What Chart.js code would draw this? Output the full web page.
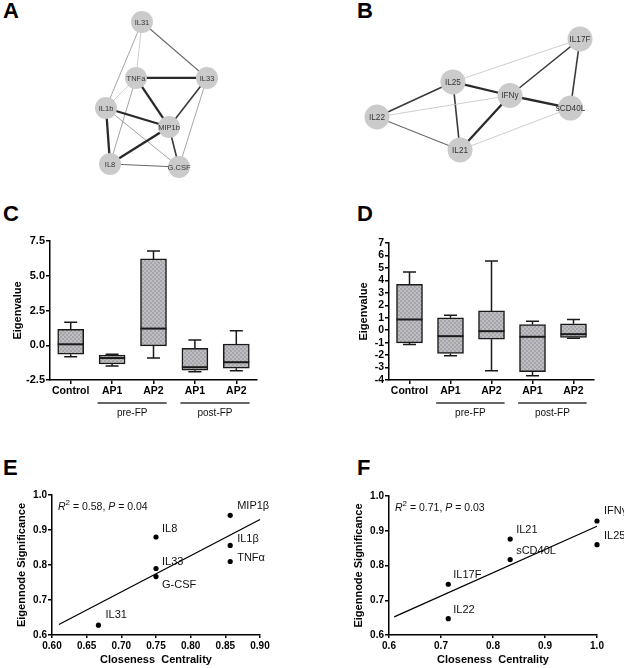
<!DOCTYPE html>
<html><head><meta charset="utf-8">
<script src="https://cdn.jsdelivr.net/npm/chart.js@4"></script>
<style>
body{margin:0;background:#fff;width:624px;height:668px;position:relative;overflow:hidden;font-family:'Liberation Sans',Arial,sans-serif}
canvas{position:absolute}
.lbl{position:absolute;font-weight:bold;font-size:22px;line-height:22px;color:#000}
</style></head><body>
<div class="lbl" style="left:3px;top:0px">A</div>
<div class="lbl" style="left:357px;top:0px">B</div>
<div class="lbl" style="left:3px;top:203px">C</div>
<div class="lbl" style="left:357px;top:203px">D</div>
<div class="lbl" style="left:3px;top:457px">E</div>
<div class="lbl" style="left:357px;top:457px">F</div>
<canvas id="cA" width="312" height="200" style="left:0;top:0"></canvas>
<canvas id="cB" width="312" height="200" style="left:312px;top:0"></canvas>
<canvas id="cC" width="312" height="230" style="left:0;top:200px"></canvas>
<canvas id="cD" width="312" height="230" style="left:312px;top:200px"></canvas>
<canvas id="cE" width="312" height="228" style="left:0;top:440px"></canvas>
<canvas id="cF" width="312" height="228" style="left:312px;top:440px"></canvas>
<script>
// ---------- DATA ----------
// Network A (layout coordinates, 0..1)
const netANodes = ['IL31','TNFa','IL33','IL1b','MIP1b','IL8','G.CSF'];
const netAX = [0.356,0.297,1.000,0.000,0.624,0.040,0.723];
const netAY = [1.000,0.614,0.614,0.407,0.276,0.021,0.000];
const netAEdges = [['TNFa','IL33',5],['TNFa','MIP1b',5],['IL33','MIP1b',4],['IL1b','MIP1b',5],['IL1b','IL8',5],['MIP1b','IL8',5],['MIP1b','G.CSF',4],['IL8','G.CSF',3],['IL31','IL33',3],['IL31','IL1b',2],['IL31','TNFa',1],['TNFa','IL1b',1],['TNFa','IL8',2],['IL33','G.CSF',2],['IL1b','G.CSF',2]];
// Network B
const netBNodes = ['IL17F','IL25','IFNy','sCD40L','IL22','IL21'];
const netBX = [1.000,0.374,0.655,0.953,0.000,0.409];
const netBY = [1.000,0.613,0.491,0.378,0.297,0.000];
const netBEdges = [['IL25','IL17F',1],['IFNy','IL17F',4],['IL17F','sCD40L',4],['IL25','IFNy',5],['IFNy','sCD40L',5],['IL22','IL25',4],['IL22','IFNy',1],['IL22','IL21',3],['IL25','IL21',4],['IFNy','IL21',5],['IL21','sCD40L',1]];
// Box plots
const boxCategories = ['Control','AP1','AP2','AP1','AP2'];
const groupNames = ['pre-FP','post-FP'];
const groupMembers = [[1,2],[3,4]];
const cMin = [-0.82,-1.50,-0.91,-1.90,-1.83];
const cQ1  = [-0.65,-1.35,-0.05,-1.80,-1.65];
const cMed = [ 0.07,-0.92, 1.20,-1.58,-1.22];
const cQ3  = [ 1.15,-0.70, 6.21,-0.22, 0.09];
const cMax = [ 1.65,-0.65, 6.78, 0.38, 1.05];
const dMin = [-1.15,-2.06,-3.26,-3.66,-0.64];
const dQ1  = [-1.02,-1.87,-0.72,-3.34,-0.59];
const dMed = [ 0.86,-0.48,-0.08,-0.53,-0.32];
const dQ3  = [ 3.69, 0.99, 1.55, 0.45, 0.51];
const dMax = [ 4.68, 1.20, 5.56, 0.72, 0.86];
// Scatter E
const eNames = ['MIP1β','IL8','IL1β','TNFα','IL33','G-CSF','IL31'];
const eX = [0.857,0.750,0.857,0.857,0.750,0.750,0.667];
const eY = [0.942,0.880,0.856,0.810,0.790,0.767,0.628];
const eFitX = [0.61,0.90];
const eFitY = [0.630,0.930];
const eStat = ['0.58','0.04'];
// Scatter F
const fNames = ['IFNγ','IL25','IL21','sCD40L','IL17F','IL22'];
const fX = [1.000,1.000,0.833,0.833,0.714,0.714];
const fY = [0.928,0.860,0.876,0.817,0.746,0.647];
const fFitX = [0.61,1.00];
const fFitY = [0.652,0.913];
const fStat = ['0.71','0.03'];

// ---------- STYLE ----------
const FONT = "'Liberation Sans', Arial, sans-serif";
Chart.defaults.font.family = FONT;
Chart.defaults.color = '#000';
Chart.defaults.animation = false;
Chart.defaults.events = [];
Chart.defaults.plugins.legend.display = false;
Chart.defaults.plugins.tooltip.enabled = false;

const edgeStyle = {1:['#c2c2c2',0.8],2:['#9a9a9a',0.9],3:['#6a6a6a',1.1],4:['#3a3a3a',1.6],5:['#2a2a2a',2.3]};

function network(id, nodes, xs, ys, edges, pad, radius, fsize){
  const pts = nodes.map((n,i)=>({x:xs[i], y:ys[i]}));
  const idx = n => nodes.indexOf(n);
  const ds = [{data:pts, pointRadius:radius, pointBackgroundColor:'#cbcbcb', pointBorderWidth:0, showLine:false, clip:false, order:0}];
  edges.forEach(e=>{
    const st = edgeStyle[e[2]];
    ds.push({data:[pts[idx(e[0])], pts[idx(e[1])]], showLine:true, pointRadius:0, borderColor:st[0], borderWidth:st[1], clip:false, order:1});
  });
  new Chart(document.getElementById(id), {
    type:'scatter',
    data:{datasets:ds},
    options:{responsive:false, layout:{padding:pad},
      scales:{x:{type:'linear',display:false,min:0,max:1}, y:{type:'linear',display:false,min:0,max:1}}},
    plugins:[{id:'nodeLabels', afterDatasetsDraw(chart){
      const {ctx, scales:{x,y}} = chart;
      ctx.save(); ctx.font = fsize+'px '+FONT; ctx.fillStyle='#333'; ctx.textAlign='center'; ctx.textBaseline='middle';
      nodes.forEach((n,i)=>ctx.fillText(n, x.getPixelForValue(xs[i]), y.getPixelForValue(ys[i])+0.5));
      ctx.restore();
    }}]
  });
}

function makePattern(){
  const c = document.createElement('canvas'); c.width=4; c.height=4;
  const g = c.getContext('2d');
  g.fillStyle='#bebec2'; g.fillRect(0,0,4,4);
  g.fillStyle='#a6a6aa'; g.fillRect(0,0,2,2); g.fillRect(2,2,2,2);
  return g.createPattern(c,'repeat');
}

function yAxis(min,max,step,fmt,title,width,titlePad,fs){
  return {type:'linear',min,max,
    ticks:{stepSize:step,autoSkip:false,callback:v=>fmt(v),font:{size:fs,weight:'bold'},padding:1,color:'#000'},
    grid:{drawOnChartArea:false,drawTicks:true,tickLength:4,color:'#000',lineWidth:1.5},
    border:{display:true,color:'#000',width:1.5},
    title:{display:true,text:title,font:{size:11,weight:'bold'},padding:{top:titlePad,bottom:0},color:'#000'},
    afterFit(s){s.width=width;}};
}

function boxChart(id, mn, q1, md, q3, mx, yMin, yMax, step, fmt, pad, titlePad, yfs){
  const bw = 26;
  new Chart(document.getElementById(id), {
    type:'bar',
    data:{labels:boxCategories, datasets:[{data:q1.map((v,i)=>[v,q3[i]]), backgroundColor:makePattern(), borderColor:'#1a1a1a', borderWidth:1.5, borderSkipped:false, barThickness:bw}]},
    options:{responsive:false, layout:{padding:pad},
      scales:{
        x:{type:'category',offset:true,
          ticks:{font:{size:10.5,weight:'bold'},padding:1,color:'#000',maxRotation:0,autoSkip:false},
          grid:{offset:false,drawOnChartArea:false,drawTicks:true,tickLength:4,color:'#000',lineWidth:1.5},
          border:{display:true,color:'#000',width:1.5},
          afterFit(s){s.height=50;}},
        y:yAxis(yMin,yMax,step,fmt,'Eigenvalue',50,titlePad,yfs)
      }},
    plugins:[{id:'boxExtras',
      beforeDatasetsDraw(chart){
        const {ctx, scales:{x,y}} = chart;
        ctx.save(); ctx.strokeStyle='#1a1a1a'; ctx.lineWidth=1.5;
        mn.forEach((v,i)=>{
          const cx = x.getPixelForValue(i);
          ctx.beginPath();
          ctx.moveTo(cx,y.getPixelForValue(mx[i])); ctx.lineTo(cx,y.getPixelForValue(q3[i]));
          ctx.moveTo(cx,y.getPixelForValue(q1[i])); ctx.lineTo(cx,y.getPixelForValue(v));
          ctx.moveTo(cx-6.5,y.getPixelForValue(mx[i])); ctx.lineTo(cx+6.5,y.getPixelForValue(mx[i]));
          ctx.moveTo(cx-6.5,y.getPixelForValue(v)); ctx.lineTo(cx+6.5,y.getPixelForValue(v));
          ctx.stroke();
        });
        ctx.restore();
      },
      afterDatasetsDraw(chart){
        const {ctx, scales:{x,y}, chartArea} = chart;
        ctx.save(); ctx.strokeStyle='#1a1a1a'; ctx.lineWidth=2;
        md.forEach((v,i)=>{
          const cx = x.getPixelForValue(i), py = y.getPixelForValue(v);
          ctx.beginPath(); ctx.moveTo(cx-bw/2,py); ctx.lineTo(cx+bw/2,py); ctx.stroke();
        });
        const sp = x.getPixelForValue(1)-x.getPixelForValue(0);
        ctx.strokeStyle='#333'; ctx.lineWidth=1.5;
        ctx.font='10px '+FONT; ctx.fillStyle='#111'; ctx.textAlign='center'; ctx.textBaseline='middle';
        groupMembers.forEach((g,k)=>{
          const a = x.getPixelForValue(g[0])-sp*0.35, b = x.getPixelForValue(g[1])+sp*0.32;
          const ly = chartArea.bottom+23;
          ctx.beginPath(); ctx.moveTo(a,ly); ctx.lineTo(b,ly); ctx.stroke();
          ctx.fillText(groupNames[k], (a+b)/2, ly+10.5);
        });
        ctx.restore();
      }}]
  });
}

function scatterChart(id, names, xs, ys, fitX, fitY, stat, xMin, xMax, xStep, xDec, pad, titlePad, place){
  new Chart(document.getElementById(id), {
    type:'scatter',
    data:{datasets:[
      {data:xs.map((v,i)=>({x:v,y:ys[i]})), pointRadius:2.6, pointBackgroundColor:'#000', pointBorderWidth:0, clip:false, order:0},
      {data:fitX.map((v,i)=>({x:v,y:fitY[i]})), showLine:true, pointRadius:0, borderColor:'#000', borderWidth:1.3, clip:false, order:1}
    ]},
    options:{responsive:false, layout:{padding:pad},
      scales:{
        x:{type:'linear',min:xMin,max:xMax,
          ticks:{stepSize:xStep,autoSkip:false,callback:v=>v.toFixed(xDec),font:{size:10,weight:'bold'},padding:2,color:'#000',maxRotation:0},
          grid:{drawOnChartArea:false,drawTicks:true,tickLength:3,color:'#000',lineWidth:1.5},
          border:{display:true,color:'#000',width:1.5},
          title:{display:true,text:'Closeness  Centrality',font:{size:11,weight:'bold'},padding:{top:0,bottom:1.5},color:'#000'},
          afterFit(s){s.height=33;}},
        y:yAxis(0.6,1.0,0.1,v=>v.toFixed(1),'Eigennode Significance',52,titlePad,10)
      }},
    plugins:[{id:'ptLabels', afterDatasetsDraw(chart){
      const {ctx, scales:{x,y}, chartArea} = chart;
      ctx.save(); ctx.fillStyle='#111'; ctx.textBaseline='middle'; ctx.textAlign='left';
      ctx.font='11px '+FONT;
      names.forEach((n,i)=>{
        const o = place[n];
        ctx.fillText(n, x.getPixelForValue(xs[i])+o[0], y.getPixelForValue(ys[i])+o[1]);
      });
      let tx = chartArea.left+6; const ty = chartArea.top+12;
      const parts = [['R','italic 10.5px '],['2','8px ',-4],[' = '+stat[0]+', ','10.5px '],['P','italic 10.5px '],[' = '+stat[1],'10.5px ']];
      parts.forEach(p=>{ ctx.font=p[1]+FONT; ctx.fillText(p[0], tx, ty+(p[2]||0)); tx += ctx.measureText(p[0]).width; });
      ctx.restore();
    }}]
  });
}

// ---------- CHARTS ----------
network('cA', netANodes, netAX, netAY, netAEdges, {left:106,right:105,top:22,bottom:33}, 11, 7.5);
network('cB', netBNodes, netBX, netBY, netBEdges, {left:65,right:44,top:39,bottom:50}, 12.5, 8.2);
boxChart('cC', cMin, cQ1, cMed, cQ3, cMax, -2.5, 7.5, 2.5, v=>v.toFixed(1), {left:0,top:41,right:55,bottom:0}, 11, 11);
boxChart('cD', dMin, dQ1, dMed, dQ3, dMax, -4, 7, 1, v=>String(v), {left:27,top:43,right:30,bottom:0}, 18, 10.5);
const ePlace = {'MIP1β':[7,-9],'IL8':[6,-8],'IL1β':[7,-6],'TNFα':[7,-4],'IL33':[6,-7],'G-CSF':[6,8],'IL31':[7,-10]};
const fPlace = {'IFNγ':[7,-10],'IL25':[7,-9],'IL21':[6,-9],'sCD40L':[6,-9],'IL17F':[5,-9],'IL22':[5,-9]};
scatterChart('cE', eNames, eX, eY, eFitX, eFitY, eStat, 0.60, 0.90, 0.05, 2, {left:0,top:55,right:52,bottom:0}, 15, ePlace);
scatterChart('cF', fNames, fX, fY, fFitX, fFitY, fStat, 0.6, 1.0, 0.1, 1, {left:25,top:56,right:27,bottom:0}, 15, fPlace);
</script>
</body></html>
